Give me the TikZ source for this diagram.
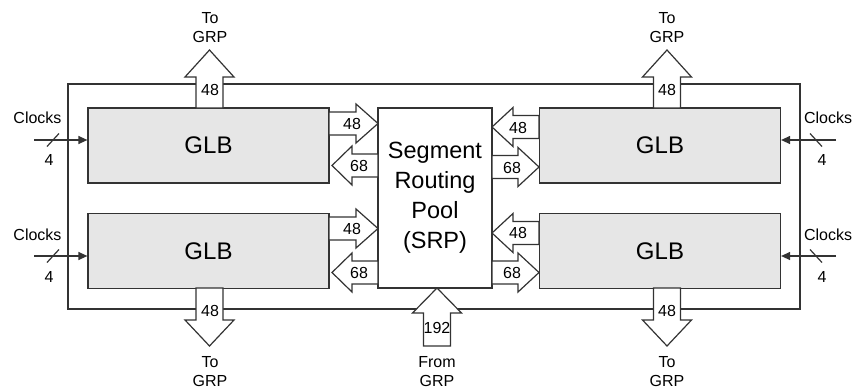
\documentclass[tikz,border=0pt]{standalone}
\usepackage{fontspec}
\setmainfont{Liberation Sans}
\usetikzlibrary{arrows.meta,calc}
\definecolor{ln}{HTML}{333333}
\definecolor{glbfill}{HTML}{E6E6E6}
\tikzset{
  ln/.style={draw=ln,line width=1.2pt},
  glb/.style={ln,fill=glbfill,rectangle,minimum width=241pt,minimum height=75pt,inner sep=0pt,font=\fontsize{24}{26}\selectfont},
  srp/.style={ln,fill=white,rectangle,minimum width=114pt,minimum height=180pt,inner sep=0pt,align=center,font=\fontsize{23.5}{30}\selectfont},
  barrow/.style={ln,fill=white,line join=miter},
  lbl/.style={inner sep=0pt,font=\fontsize{16}{19}\selectfont,align=center},
  clk/.style={ln,-{Triangle[length=9pt,width=8pt]}},
}
% horizontal block arrow: tail x, head-base x, tip x, centre y
\newcommand\HArrow[4]{\draw[barrow] ({#1},{#4-11.5}) -- ({#2},{#4-11.5}) -- ({#2},{#4-19.5}) -- ({#3},{#4}) -- ({#2},{#4+19.5}) -- ({#2},{#4+11.5}) -- ({#1},{#4+11.5}) -- cycle;}
% vertical block arrow: tail y, head-base y, tip y, centre x
\newcommand\VArrow[4]{\draw[barrow] ({#4-13.5},{#1}) -- ({#4-13.5},{#2}) -- ({#4-24.5},{#2}) -- ({#4},{#3}) -- ({#4+24.5},{#2}) -- ({#4+13.5},{#2}) -- ({#4+13.5},{#1}) -- cycle;}
\begin{document}
\begin{tikzpicture}[x=1pt,y=-1pt]
\useasboundingbox (0,0) rectangle (854,391);
% outer frame
\draw[ln] (68,84) rectangle (800,309);
% blocks
\node[glb] (glbTL) at (208.5,145.5) {GLB};
\node[glb] (glbBL) at (208.5,251) {GLB};
\node[glb] (glbTR) at (660,145.5) {GLB};
\node[glb] (glbBR) at (660,251) {GLB};
\node[srp] (srp) at (435,198) {Segment\\Routing\\Pool\\(SRP)};
% horizontal block arrows
\HArrow{329}{356}{378}{123.5}
\HArrow{378}{352}{332}{165.5}
\HArrow{539}{513}{492}{127}
\HArrow{492}{518}{539}{167}
\HArrow{329}{356}{378}{228.5}
\HArrow{378}{352}{332}{272.5}
\HArrow{539}{513}{492}{233}
\HArrow{492}{518}{539}{272.5}
\node[lbl] (l1) at (352,123.5) {48};
\node[lbl] (l2) at (359,166) {68};
\node[lbl] (l3) at (518,128) {48};
\node[lbl] (l4) at (512,168) {68};
\node[lbl] (l5) at (352,229) {48};
\node[lbl] (l6) at (359,273) {68};
\node[lbl] (l7) at (518,233) {48};
\node[lbl] (l8) at (512,273) {68};
% vertical block arrows
\VArrow{108}{77}{50}{209.5}
\VArrow{108}{77}{50}{667}
\VArrow{288}{320}{346}{209.5}
\VArrow{288}{320}{346}{667}
\VArrow{346}{313}{288}{437}
\node[lbl] (v1) at (210,90) {48};
\node[lbl] (v2) at (667,90) {48};
\node[lbl] (v3) at (210,311) {48};
\node[lbl] (v4) at (667,311) {48};
\node[lbl] (v5) at (437,328) {192};
\node[lbl] (t1) at (210,27.5) {To\\GRP};
\node[lbl] (t2) at (667,27.5) {To\\GRP};
\node[lbl] (t3) at (210,372) {To\\GRP};
\node[lbl] (t4) at (667,372) {To\\GRP};
\node[lbl] (t5) at (437,372) {From\\GRP};
% clocks
\coordinate (c1) at (34,140);
\coordinate (c2) at (34,256);
\coordinate (c3) at (836,140);
\coordinate (c4) at (836,256);
\draw[clk] (c1) -- (glbTL.west |- c1);
\draw[clk] (c2) -- (glbBL.west |- c2);
\draw[clk] (c3) -- (glbTR.east |- c3);
\draw[clk] (c4) -- (glbBR.east |- c4);
\draw[ln] (47,146.5) -- (59,133.5);
\draw[ln] (47,262.5) -- (59,249.5);
\draw[ln] (810,133.5) -- (822,146.5);
\draw[ln] (810,249.5) -- (822,262.5);
\node[lbl] (k1) at (37.5,118) {Clocks};
\node[lbl] (k2) at (37.5,235) {Clocks};
\node[lbl] (k3) at (828,118) {Clocks};
\node[lbl] (k4) at (828,235) {Clocks};
\node[lbl] (n1) at (49,160) {4};
\node[lbl] (n2) at (49,277) {4};
\node[lbl] (n3) at (822,160) {4};
\node[lbl] (n4) at (822,277) {4};
\end{tikzpicture}
\end{document}
